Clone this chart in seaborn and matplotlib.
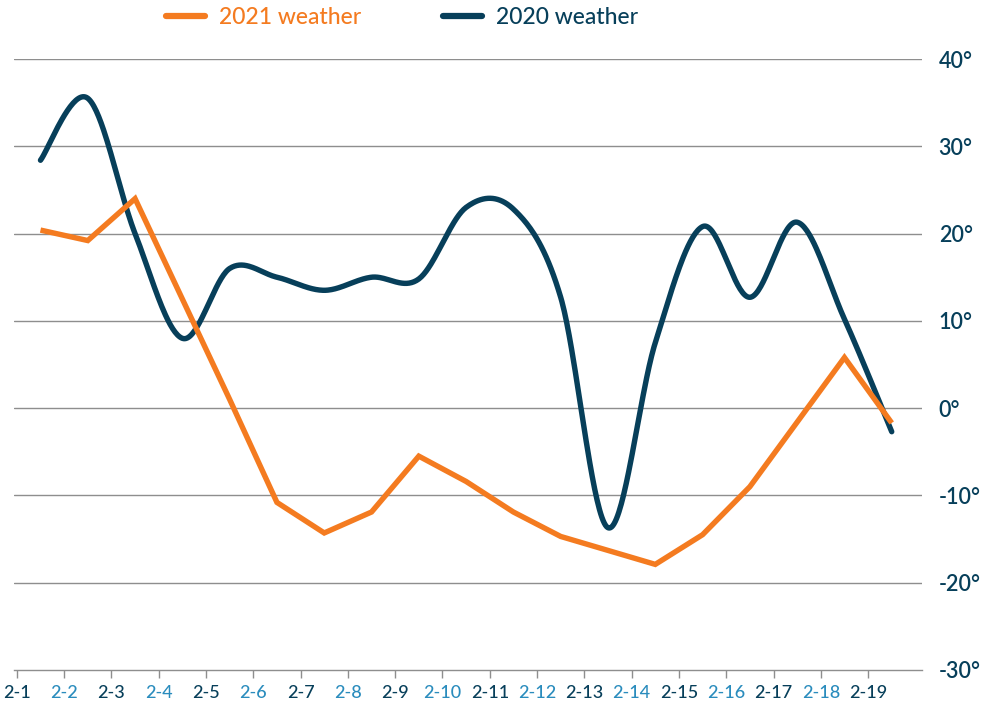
import numpy as np
import pandas as pd
import matplotlib
matplotlib.use("Agg")
import matplotlib.pyplot as plt
import seaborn as sns
from matplotlib.lines import Line2D

# ---- data ----
dates = ["2-1", "2-2", "2-3", "2-4", "2-5", "2-6", "2-7", "2-8", "2-9", "2-10",
         "2-11", "2-12", "2-13", "2-14", "2-15", "2-16", "2-17", "2-18", "2-19"]
weather_2021 = [20.4, 19.2, 24.0, 12.5, 1.0, -10.8, -14.3, -11.9, -5.5, -8.4,
                -11.9, -14.7, -16.3, -17.9, -14.5, -9.0, -1.6, 5.8, -1.7]
weather_2020 = [28.4, 35.5, 20.0, 8.0, 16.0, 15.0, 13.5, 15.0, 14.8, 23.0,
                22.8, 12.7, -13.7, 7.5, 20.8, 12.7, 21.3, 10.2, -2.7]
y_ticks = [-30, -20, -10, 0, 10, 20, 30, 40]

ORANGE = "#f47b20"
NAVY = "#073f5a"
LIGHTBLUE = "#2a8cbd"
GRID = "#8e8e8e"


def smooth_curve(xs, ys, n=40):
    """Uniform Catmull-Rom rendering of a smoothed line (like a spreadsheet 'smooth line')."""
    P = np.column_stack([xs, ys]).astype(float)
    P = np.vstack([P[0], P, P[-1]])
    out = []
    t = np.linspace(0, 1, n)[:, None]
    for i in range(len(xs) - 1):
        p0, p1, p2, p3 = P[i], P[i + 1], P[i + 2], P[i + 3]
        seg = 0.5 * ((2 * p1) + (-p0 + p2) * t + (2 * p0 - 5 * p1 + 4 * p2 - p3) * t ** 2
                     + (-p0 + 3 * p1 - 3 * p2 + p3) * t ** 3)
        out.append(seg if i == 0 else seg[1:])
    out = np.vstack(out)
    return out[:, 0], out[:, 1]


sns.set_theme(style="white")
plt.rcParams["font.family"] = ["Lato", "DejaVu Sans"]

fig = plt.figure(figsize=(9.81, 7.01), dpi=100)
ax = fig.add_axes([14 / 981, 31 / 701, (922 - 14) / 981, (670 - 59) / 701])

xpos = np.arange(len(dates)) + 0.5
df21 = pd.DataFrame({"x": xpos, "temp": weather_2021})
sx, sy = smooth_curve(xpos, np.array(weather_2020))
df20 = pd.DataFrame({"x": sx, "temp": sy})

sns.lineplot(data=df20, x="x", y="temp", ax=ax, color=NAVY, linewidth=3.9,
             sort=False, estimator=None, zorder=3, solid_capstyle="round")
sns.lineplot(data=df21, x="x", y="temp", ax=ax, color=ORANGE, linewidth=3.9,
             sort=False, estimator=None, zorder=4, solid_capstyle="butt",
             solid_joinstyle="miter")

ax.set_xlim(-0.06, 19.14)
ax.set_ylim(-30, 40)

# grid lines
for yv in y_ticks[1:]:
    ax.axhline(yv, color=GRID, linewidth=1.0, zorder=1)

for s in ["top", "right", "left"]:
    ax.spines[s].set_visible(False)
ax.spines["bottom"].set_color(GRID)
ax.spines["bottom"].set_linewidth(1.0)

ax.set_xticks(np.arange(len(dates)))
ax.set_xticklabels(dates, fontsize=13, fontweight="medium")
ax.tick_params(axis="x", direction="out", length=6, width=1.0, color=GRID, pad=5,
               bottom=True)
for i, lab in enumerate(ax.get_xticklabels()):
    lab.set_color(NAVY if i % 2 == 0 else LIGHTBLUE)

ax.yaxis.tick_right()
ax.set_yticks(y_ticks)
ax.set_yticklabels([f"{v}°" for v in y_ticks], fontsize=15.5, color=NAVY,
                   fontweight="semibold")
ax.tick_params(axis="y", length=0, pad=12, right=False)
ax.set_xlabel("")
ax.set_ylabel("")

handles = [Line2D([0], [0], color=ORANGE, lw=4.5, solid_capstyle="round"),
           Line2D([0], [0], color=NAVY, lw=4.5, solid_capstyle="round")]
leg = fig.legend(handles, ["2021 weather", "2020 weather"], ncol=2, frameon=False,
                 loc="center left", bbox_to_anchor=(166 / 981, 1 - 18 / 701),
                 prop={"size": 16.5, "weight": "medium"}, handlelength=1.7,
                 handletextpad=0.6, columnspacing=3.6, borderpad=0, borderaxespad=0)
for txt, c in zip(leg.get_texts(), [ORANGE, NAVY]):
    txt.set_color(c)

fig.savefig("out.png", dpi=100)
